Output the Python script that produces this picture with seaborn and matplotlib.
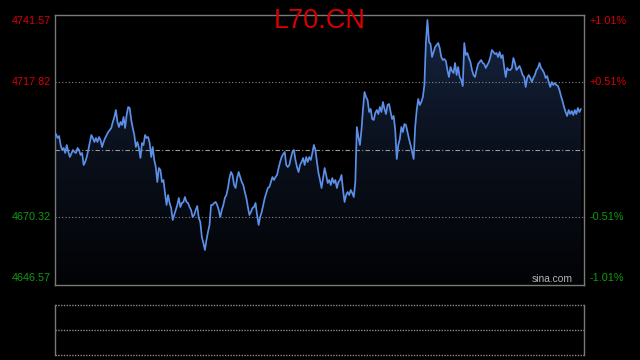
import numpy as np
import pandas as pd
import matplotlib
matplotlib.use("Agg")
import matplotlib.pyplot as plt
from matplotlib.colors import LinearSegmentedColormap
from matplotlib.patches import PathPatch
import seaborn as sns

# ---- data -------------------------------------------------------------
title = "L70.CN"
base_price = 4694.07
price_ticks = [4741.57, 4717.82, 4670.32, 4646.57]
pct_ticks = ["+1.01%", "+0.51%", "-0.51%", "-1.01%"]
session_minutes = 345

minutes = [
    0, 1, 2, 3, 4, 5, 6, 7, 8, 9, 10, 12, 13, 14, 15, 16, 17, 18, 19, 20,
    21, 22, 24, 25, 26, 27, 28, 29, 30, 31, 32, 33, 34, 35, 37, 38, 39, 40, 41, 42,
    43, 44, 45, 46, 47, 48,
    49, 50, 51, 52, 53, 54, 55, 56, 57, 58, 59, 60, 61, 62, 63, 64, 65, 66, 67, 68,
    69, 70, 71, 72, 73, 74, 75, 76, 77, 78, 79, 80, 81, 82, 83, 84, 85, 86, 87, 88,
    89, 90, 91, 92, 93, 94, 95, 96, 97, 98, 99, 100, 101,
    102, 103, 104, 105, 106, 107, 108, 109, 110, 111, 112, 113, 114, 115, 116, 117,
    118, 119, 120, 121, 122, 123, 124, 125, 126, 127, 128, 129, 130, 131, 132, 133,
    134, 135, 136, 137, 138, 139, 140, 141, 142, 143, 144, 145, 146, 147, 148, 149,
    150, 151, 152, 153, 154, 155, 156, 157, 158, 159, 160, 161, 162, 163, 164, 165,
    166, 167, 168, 169, 170, 171, 172, 173, 174, 175, 176, 177, 178, 179, 180, 181,
    182, 183, 184, 185, 186, 187, 188, 189, 190, 191, 192, 193, 194, 195, 196,
    197, 198, 199, 200, 201, 202, 203, 204, 205, 206, 207, 208, 209, 210, 211, 212,
    213, 214, 215, 216, 217, 218, 219, 220, 221, 222, 223, 224, 225, 226, 227, 228,
    229, 230, 231, 232, 233, 234, 235, 236, 237, 238, 239, 240, 241, 242, 243, 244, 245,
    246, 247, 248, 249, 250, 251, 252, 253, 254, 255, 256, 257, 258, 259, 260, 261,
    262, 263, 264, 265, 266, 267, 268, 269, 270, 271, 272, 273, 274, 275, 276, 277,
    278, 279, 280, 281, 282, 283, 284, 285, 286, 287, 288, 289, 290, 291, 292, 293,
    294, 295, 296, 297, 298,
    299, 300, 301, 302, 303, 304, 305, 306, 307, 308, 309, 310, 311, 312, 313, 314,
    315, 316, 317, 318, 319, 320, 321, 322, 323, 324, 325, 326, 327, 328, 329, 330,
    331, 332, 333, 334, 335, 336, 337, 338, 339, 340, 341, 342, 343,
]

prices = [
    4699.17, 4699.52, 4698.12, 4698.82, 4695.65, 4693.89, 4694.60, 4692.84, 4695.65, 4693.19,
    4691.43, 4693.89, 4693.19, 4692.84, 4694.60, 4693.89, 4692.14, 4692.84, 4688.62, 4689.67,
    4691.43, 4693.89, 4699.17, 4698.12, 4696.71, 4698.12, 4696.71, 4698.47, 4697.41, 4694.95,
    4696.71, 4698.12, 4699.17, 4700.23, 4701.64, 4703.75, 4705.51, 4707.97, 4703.75, 4701.99,
    4703.75, 4702.69, 4705.51, 4701.64, 4706.21, 4709.02,
    4708.67, 4704.45, 4701.64, 4699.17, 4694.95, 4696.71, 4694.60, 4691.08, 4696.36, 4695.65,
    4699.17, 4698.12, 4698.47, 4696.36, 4691.43, 4694.95, 4690.38, 4687.91, 4682.64, 4687.56,
    4686.86, 4682.64, 4683.34, 4678.77, 4674.54, 4678.06, 4675.25, 4673.49, 4669.27, 4671.02,
    4672.78, 4674.54, 4677.01, 4673.84, 4675.25, 4675.60, 4677.36, 4675.60, 4675.25, 4673.84,
    4672.78, 4670.32, 4671.02, 4672.78, 4674.19, 4669.97, 4668.56, 4663.28, 4661.17, 4658.71,
    4662.23, 4665.04, 4667.51,
    4674.54, 4674.54, 4675.25, 4675.60, 4674.54, 4672.78, 4670.32, 4672.78, 4674.54, 4677.01,
    4678.06, 4680.52, 4684.04, 4686.15, 4685.10, 4681.58, 4680.52, 4684.04, 4686.15, 4684.39,
    4682.64, 4681.58, 4679.12, 4677.01, 4673.84, 4671.02, 4672.08, 4673.49, 4673.84, 4675.25,
    4671.02, 4667.51, 4670.32, 4672.08, 4674.54, 4677.01, 4678.77, 4680.52, 4680.88, 4682.64,
    4684.39, 4683.34, 4684.39, 4685.10, 4687.56, 4689.67, 4691.43, 4692.49,
    4693.19, 4688.62, 4687.91, 4688.62, 4691.08, 4693.19, 4693.89, 4690.38, 4687.91, 4686.15,
    4688.62, 4689.67, 4691.08, 4688.62, 4691.43, 4689.67, 4691.43, 4690.38, 4692.84, 4695.65,
    4693.89, 4689.67, 4685.80, 4683.34, 4680.52, 4684.04, 4687.56, 4685.10, 4682.28, 4683.34,
    4681.58, 4684.04, 4682.28, 4683.34, 4680.52, 4682.64, 4683.34, 4685.10, 4679.82, 4675.60,
    4678.06, 4679.12, 4678.06, 4679.82, 4678.77, 4677.36, 4682.64,
    4701.99, 4698.47, 4695.65, 4700.93, 4708.32, 4714.30, 4712.54, 4711.49, 4707.27, 4708.32,
    4704.80, 4704.45, 4706.91, 4707.97, 4706.56, 4709.02, 4707.27, 4710.78, 4708.32, 4706.56,
    4709.73, 4710.08, 4707.27, 4704.80, 4705.86, 4700.93, 4690.73, 4695.65, 4697.77, 4701.99,
    4700.23, 4703.04, 4702.69, 4700.23, 4697.77, 4695.65, 4693.19, 4690.73, 4701.99, 4707.97,
    4711.84, 4709.73, 4710.78, 4712.54, 4716.77, 4731.89, 4739.64, 4731.89, 4731.19,
    4726.62, 4728.38, 4730.14, 4730.84, 4731.54, 4729.78, 4726.62, 4725.56, 4725.91, 4725.21,
    4722.04, 4719.58, 4723.10, 4721.69, 4720.99, 4724.51, 4720.28, 4723.10, 4719.58, 4718.52,
    4716.41, 4731.54, 4727.32, 4728.02, 4726.27, 4724.86, 4722.04, 4720.28, 4719.58, 4722.04,
    4724.15, 4724.86, 4725.56, 4724.51, 4724.15, 4722.75, 4723.80, 4724.86, 4726.62, 4729.08,
    4728.38, 4727.67, 4728.02, 4726.62, 4728.38, 4726.27, 4727.32, 4723.10, 4719.58, 4722.75,
    4722.04, 4722.04, 4722.75,
    4726.27, 4724.51, 4722.04, 4722.75, 4723.45, 4722.04, 4720.28, 4719.58, 4716.06, 4719.23,
    4720.28, 4719.23, 4717.82, 4719.23, 4720.28, 4722.04, 4722.75, 4724.51, 4722.75, 4722.04,
    4720.99, 4719.23, 4719.93, 4717.82, 4716.06, 4717.82, 4716.77, 4717.47, 4716.77, 4716.41,
    4715.01, 4712.89, 4711.14, 4709.02, 4707.27, 4705.86, 4707.97, 4706.56, 4707.62, 4706.21,
    4707.97, 4706.56, 4708.67, 4707.27, 4708.32,
]

# ---- style ------------------------------------------------------------
sns.set_style("dark")
plt.rcParams["font.family"] = ["Liberation Sans", "DejaVu Sans"]

RED = "#d80000"
GREEN = "#109a10"
FRAME = "#7a7a7a"
LINE = "#5b8fe8"

fig = plt.figure(figsize=(6.4, 3.6), dpi=100, facecolor="black")
W, H = 640.0, 360.0
x0, x1 = 54.5, 584.0
ax = fig.add_axes([x0 / W, 1 - 284.5 / H, (x1 - x0) / W, 270 / H])
ax2 = fig.add_axes([x0 / W, 1 - 354.5 / H, (x1 - x0) / W, 50 / H])

ymin, ymax = price_ticks[-1], price_ticks[0]
for a in (ax, ax2):
    a.set_facecolor("black")
    a.set_xticks([])
    a.set_yticks([])
    a.grid(False)
    a.set_xlabel("")
    a.set_ylabel("")

df = pd.DataFrame({"minute": minutes, "price": prices})

# gradient area under the line
poly = ax.fill_between(df["minute"], df["price"], ymin, color="none", lw=0)
path = poly.get_paths()[0]
patch = PathPatch(path, transform=ax.transData, facecolor="none", edgecolor="none")
ax.add_patch(patch)
cmap = LinearSegmentedColormap.from_list("fade", ["#020305", "#0a101c", "#172643"])
grad = np.linspace(0, 1, 256).reshape(-1, 1)
im = ax.imshow(grad, extent=[0, session_minutes, ymin, ymax], origin="lower",
               aspect="auto", cmap=cmap, zorder=1, interpolation="bicubic")
im.set_clip_path(patch)

sns.lineplot(data=df, x="minute", y="price", ax=ax, color=LINE, lw=1.25,
             zorder=3, estimator=None, sort=False)
ax.set_xlabel("")
ax.set_ylabel("")

ax.set_xlim(0, session_minutes)
ax.set_ylim(ymin, ymax)

# grid lines
for p in (price_ticks[1], price_ticks[2]):
    ax.axhline(p, color="#8a8a8a", lw=0.8, ls=(0, (1, 2)), zorder=2)
ax.axhline(base_price, color="#9a9a9a", lw=0.8, ls=(0, (4, 2, 1, 2)), zorder=2)

for s in ax.spines.values():
    s.set_visible(True)
    s.set_color(FRAME)
    s.set_linewidth(1.0)

# lower panel
ax2.set_xlim(0, session_minutes)
ax2.set_ylim(0, 1)
for side in ("left", "right"):
    ax2.spines[side].set_visible(True)
    ax2.spines[side].set_color(FRAME)
    ax2.spines[side].set_linewidth(1.0)
for side in ("top", "bottom"):
    ax2.spines[side].set_visible(False)
for yv in (0.0, 0.5, 1.0):
    ax2.axhline(yv, color="#8a8a8a", lw=1.0, ls=(0, (1, 1)), clip_on=False)

# axis labels
ytr = ax.get_yaxis_transform()
colors = [RED, RED, GREEN, GREEN]
vas = ["top", "center", "center", "bottom"]
offs = [-1.0, 0.0, 0.0, 1.0]
for p, pct, c, va, off in zip(price_ticks, pct_ticks, colors, vas, offs):
    yv = p + off * 0.6
    ax.text(-0.0066, yv, f"{p:.2f}", transform=ytr, ha="right", va=va,
            color=c, fontsize=7.8, clip_on=False)
    ax.text(1.0113, yv, pct, transform=ytr, ha="left", va=va,
            color=c, fontsize=7.8, clip_on=False)

fig.text(319.5 / W, 1 - 27.5 / H, title, ha="center", va="baseline",
         color=RED, fontsize=19.5)

ax.text((573 - x0) / (x1 - x0), 2.0 / 270, "sina.com", transform=ax.transAxes,
        ha="right", va="baseline", color="#b4b4b4", fontsize=7.4, zorder=4)

fig.savefig("out.png", dpi=100, facecolor="black")
